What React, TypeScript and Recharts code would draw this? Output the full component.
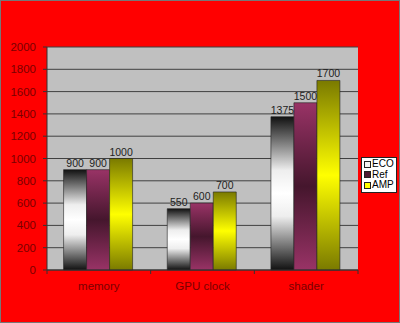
import { BarChart, Bar, XAxis, YAxis, CartesianGrid, Legend, LabelList } from 'recharts';

const categories = ['memory', 'GPU clock', 'shader'];
const seriesNames = ['ECO', 'Ref', 'AMP'];
const ecoValues = [900, 550, 1375];
const refValues = [900, 600, 1500];
const ampValues = [1000, 700, 1700];
const yTicks = [0, 200, 400, 600, 800, 1000, 1200, 1400, 1600, 1800, 2000];

const data = categories.map((name, i) => ({
  name,
  ECO: ecoValues[i],
  Ref: refValues[i],
  AMP: ampValues[i],
}));

const FONT = '"Liberation Sans", Arial, sans-serif';
const AXIS_TEXT = '#7a0000';

const swatches: Record<string, string> = {
  ECO: '#f4f4f4',
  Ref: '#4d1a33',
  AMP: '#ffff00',
};

// category label plus the small tick marks Excel puts between categories
const CategoryTick = (props: any) => {
  const { x, y, payload, index, visibleTicksCount } = props;
  const half = payload.offset || 0;
  const last = index === visibleTicksCount - 1;
  return (
    <g>
      <line x1={x - half} x2={x - half} y1={y - 12} y2={y - 8} stroke="#333" />
      {last && <line x1={x + half} x2={x + half} y1={y - 12} y2={y - 8} stroke="#333" />}
      <text x={x} y={y} dy="0.71em" textAnchor="middle" fill={AXIS_TEXT} fontSize={11.5} fontFamily={FONT}>
        {payload.value}
      </text>
    </g>
  );
};

const renderLegend = (props: any) => {
  // keep series order, not alphabetical
  const items = seriesNames.filter((n) => props.payload.some((p: any) => p.value === n));
  return (
    <div
      style={{
        background: '#fff',
        border: '1px solid #222',
        padding: '1px 2px',
        fontFamily: FONT,
        fontSize: 10,
        lineHeight: '10.5px',
        color: '#000',
      }}
    >
      {items.map((name) => (
        <div key={name} style={{ display: 'flex', alignItems: 'center', height: 10.5 }}>
          <span
            style={{
              display: 'inline-block',
              width: 5,
              height: 5,
              border: '1px solid #222',
              background: swatches[name],
              marginRight: 1,
            }}
          />
          {name}
        </div>
      ))}
    </div>
  );
};

export default function App() {
  return (
    <div style={{ position: 'fixed', left: 0, top: 0, width: 400, height: 323, background: '#ff0000' }}>
      <BarChart
        width={400}
        height={323}
        data={data}
        margin={{ top: 47, right: 42, bottom: 0, left: 0 }}
        barCategoryGap="16%"
        barGap={0}
      >
        <defs>
          <linearGradient id="gEco" x1="0" y1="0" x2="0" y2="1">
            <stop offset="0" stopColor="#111" />
            <stop offset="0.35" stopColor="#eeeeee" />
            <stop offset="0.5" stopColor="#ffffff" />
            <stop offset="0.65" stopColor="#eeeeee" />
            <stop offset="1" stopColor="#111" />
          </linearGradient>
          <linearGradient id="gRef" x1="0" y1="0" x2="0" y2="1">
            <stop offset="0" stopColor="#993366" />
            <stop offset="0.5" stopColor="#45162d" />
            <stop offset="1" stopColor="#993366" />
          </linearGradient>
          <linearGradient id="gAmp" x1="0" y1="0" x2="0" y2="1">
            <stop offset="0" stopColor="#7a7a00" />
            <stop offset="0.5" stopColor="#ffff00" />
            <stop offset="1" stopColor="#7a7a00" />
          </linearGradient>
        </defs>
        <CartesianGrid vertical={false} fill="#c0c0c0" fillOpacity={1} stroke="#404040" />
        <XAxis
          dataKey="name"
          height={53}
          tickLine={false}
          tickSize={0}
          tickMargin={12}
          axisLine={{ stroke: '#333' }}
          tick={<CategoryTick />}
          interval={0}
        />
        <YAxis
          width={47}
          domain={[0, 2000]}
          ticks={yTicks}
          interval={0}
          tickSize={4}
          tickMargin={7}
          tickLine={{ stroke: '#333' }}
          axisLine={{ stroke: '#333' }}
          tick={{ fill: AXIS_TEXT, fontSize: 11.5, fontFamily: FONT }}
        />
        <Legend
          layout="vertical"
          align="center"
          verticalAlign="middle"
          content={renderLegend}
          wrapperStyle={{ left: 361, top: 157, width: 'auto' }}
        />
        <Bar dataKey="ECO" fill="url(#gEco)" stroke="#222" strokeWidth={0.6} isAnimationActive={false}>
          <LabelList dataKey="ECO" position="top" offset={3} fill="#222" fontSize={10.5} fontFamily={FONT} />
        </Bar>
        <Bar dataKey="Ref" fill="url(#gRef)" stroke="#222" strokeWidth={0.6} isAnimationActive={false}>
          <LabelList dataKey="Ref" position="top" offset={3} fill="#222" fontSize={10.5} fontFamily={FONT} />
        </Bar>
        <Bar dataKey="AMP" fill="url(#gAmp)" stroke="#222" strokeWidth={0.6} isAnimationActive={false}>
          <LabelList dataKey="AMP" position="top" offset={3} fill="#222" fontSize={10.5} fontFamily={FONT} />
        </Bar>
      </BarChart>
      <div
        style={{
          position: 'absolute',
          inset: 0,
          border: '1px solid #777',
          pointerEvents: 'none',
        }}
      />
    </div>
  );
}
